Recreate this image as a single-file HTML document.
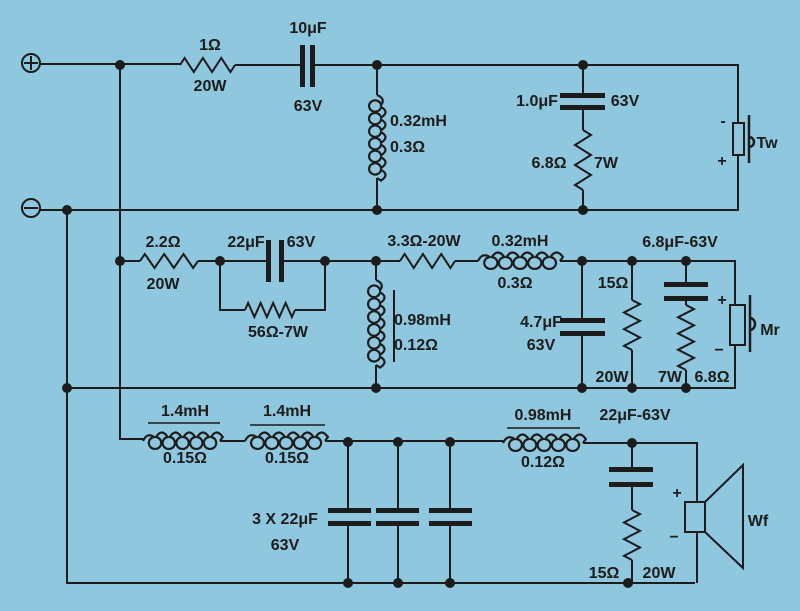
<!DOCTYPE html>
<html><head><meta charset="utf-8"><style>
html,body{margin:0;padding:0;background:#8fc7de}
svg{display:block}
text{font-family:"Liberation Sans Narrow","Liberation Sans",sans-serif;font-weight:bold;font-size:16px;fill:#1c1c1c;text-anchor:middle}
</style></head><body>
<svg id="s" width="800" height="611" viewBox="0 0 800 611" xmlns="http://www.w3.org/2000/svg">
<rect width="800" height="611" fill="#8fc7de"/>
<g id="g" stroke="#1c1c1c" stroke-width="2" fill="none">
<!-- terminals -->
<circle cx="31" cy="63" r="9"/><line x1="31" y1="56" x2="31" y2="70"/><line x1="24" y1="63" x2="38" y2="63"/>
<circle cx="31" cy="208" r="9"/><line x1="24" y1="208" x2="38" y2="208"/>
<!-- top rail -->
<path d="M40 64 H180 M235 65 H302 M312 65 H738 V123 M738 155 V210 H40"/>
<path d="M377 65 V95 M377 178 V210 M583 65 V95 M583 107 V130 M583 190 V210"/>
<!-- verticals -->
<path d="M120 65 V439 H143 M67 210 V583 H695"/>
<!-- mid rail -->
<path d="M120 261 H140 M198 261 H268 M281 261 H400 M455 261 H478 M560 261 H735 V305 M735 345 V388 H67"/>
<path d="M220 261 V310 H245 M295 310 H325 V261"/>
<path d="M376 261 V280 M376 365 V388 M394 290 V362"/>
<path d="M582 261 V320 M582 333 V388 M632 261 V300 M632 350 V388 M686 261 V284 M686 298 V305 M686 370 V388"/>
<!-- bottom -->
<path d="M220 441 H245 M325 441 H503 M583 443 H697 V502 M697 532 V583"/>
<path d="M348 442 V510 M348 523 V583 M398 442 V510 M398 523 V583 M450 442 V510 M450 523 V583"/>
<path d="M632 443 V470 M632 485 V510 M632 560 V583"/>
<path d="M148 423 H220 M250 425 H325 M507 428 H580" stroke-width="1.5"/>
<!-- tweeter -->
<rect x="733" y="123" width="11" height="32"/><path d="M749 115 V163 M749 137 a5 5 0 0 1 0 10" stroke-width="2.5"/>
<!-- mid speaker -->
<rect x="730" y="305" width="15" height="40"/><path d="M750 295 V352 M750 318 a5 6 0 0 1 0 12" stroke-width="2.5"/>
<!-- woofer -->
<rect x="685" y="502" width="20" height="30"/><path d="M705 502 L743 465 V568 L705 532"/>
</g>
<g fill="#1c1c1c">
<!-- cap plates -->
<rect x="300" y="45" width="5" height="42"/><rect x="310" y="45" width="5" height="42"/>
<rect x="560" y="93" width="45" height="5"/><rect x="560" y="105" width="45" height="5"/>
<rect x="266" y="240" width="5" height="42"/><rect x="279" y="240" width="5" height="42"/>
<rect x="560" y="318" width="45" height="5"/><rect x="560" y="331" width="45" height="5"/>
<rect x="664" y="282" width="44" height="5"/><rect x="664" y="296" width="44" height="5"/>
<rect x="328" y="508" width="43" height="5"/><rect x="328" y="521" width="43" height="5"/>
<rect x="376" y="508" width="43" height="5"/><rect x="376" y="521" width="43" height="5"/>
<rect x="429" y="508" width="43" height="5"/><rect x="429" y="521" width="43" height="5"/>
<rect x="609" y="467" width="44" height="5"/><rect x="609" y="482" width="44" height="5"/>
</g>
<g id="dots" fill="#1c1c1c"></g>
<text x="210" y="50">1Ω</text><text x="210" y="91">20W</text>
<text x="308" y="33">10μF</text><text x="308" y="111">63V</text>
<text x="390" y="126" style="text-anchor:start">0.32mH</text><text x="390" y="152" style="text-anchor:start">0.3Ω</text>
<text x="537" y="106">1.0μF</text><text x="625" y="106">63V</text>
<text x="549" y="168">6.8Ω</text><text x="606" y="168">7W</text>
<text x="723" y="126">-</text><text x="722" y="166">+</text><text x="767" y="148">Tw</text>
<text x="163" y="247">2.2Ω</text><text x="163" y="289">20W</text>
<text x="246" y="247">22μF</text><text x="301" y="247">63V</text>
<text x="278" y="337">56Ω-7W</text>
<text x="394" y="325" style="text-anchor:start">0.98mH</text><text x="394" y="350" style="text-anchor:start">0.12Ω</text>
<text x="424" y="246">3.3Ω-20W</text>
<text x="520" y="246">0.32mH</text><text x="515" y="288">0.3Ω</text>
<text x="541" y="327">4.7μF</text><text x="541" y="350">63V</text>
<text x="613" y="288">15Ω</text><text x="612" y="382">20W</text>
<text x="680" y="247">6.8μF-63V</text>
<text x="670" y="382">7W</text><text x="712" y="382">6.8Ω</text>
<text x="722" y="305">+</text><text x="719" y="355">−</text><text x="770" y="335">Mr</text>
<text x="185" y="416">1.4mH</text><text x="185" y="463">0.15Ω</text>
<text x="287" y="416">1.4mH</text><text x="287" y="463">0.15Ω</text>
<text x="285" y="524">3 X 22μF</text><text x="285" y="550">63V</text>
<text x="543" y="420">0.98mH</text><text x="543" y="467">0.12Ω</text>
<text x="635" y="420">22μF-63V</text>
<text x="604" y="578">15Ω</text><text x="659" y="578">20W</text>
<text x="677" y="498">+</text><text x="674" y="542">−</text><text x="758" y="526">Wf</text>
</svg>
<script>
var g=document.getElementById('g'),NS="http://www.w3.org/2000/svg";
function p(d,w){var e=document.createElementNS(NS,'path');e.setAttribute('d',d);if(w)e.setAttribute('stroke-width',w);g.appendChild(e);}
function rh(x1,x2,y,n){var d="M"+x1+" "+y,s=(x2-x1)/(n*2);for(var i=0;i<n*2;i++){d+=" L"+(x1+s*(i+0.5))+" "+(y+(i%2?7:-7));}d+=" L"+x2+" "+y;p(d);}
function rv(x,y1,y2,n){var d="M"+x+" "+y1,s=(y2-y1)/(n*2);for(var i=0;i<n*2;i++){d+=" L"+(x+(i%2?-8:8))+" "+(y1+s*(i+0.5));}d+=" L"+x+" "+y2;p(d);}
function lh(x1,x2,y,n){var s=(x2-x1)/(n+0.6),d="M"+x1+" "+y+" q"+(s*0.3)+" -9 "+(s*0.8)+" -4";var x=x1+s*0.8;for(var i=0;i<n;i++){d+=" a"+(s*0.45)+" 6 0 1 0 "+(s*0.15)+" 0 q"+(s*0.4)+" -9 "+(s*0.85)+" 0";x+=s;}d+=" L"+x2+" "+y;p(d,2.2);}
function lv(x,y1,y2,n){var s=(y2-y1)/(n+0.6),d="M"+x+" "+y1+" q9 "+(s*0.3)+" 4 "+(s*0.8);for(var i=0;i<n;i++){d+=" a6 "+(s*0.45)+" 0 1 0 0 "+(s*0.15)+" q9 "+(s*0.4)+" 0 "+(s*0.85);}d+=" L"+x+" "+y2;p(d,2.2);}
rh(180,235,65,3);rh(140,198,261,3);rh(245,295,310,4);rh(400,455,261,3);
rv(583,130,190,3);rv(632,300,350,3);rv(686,305,370,4);rv(632,510,560,3);
lv(377,95,178,6);lv(376,280,365,6);
lh(478,560,261,5);lh(143,220,441,5);lh(245,325,441,5);lh(503,583,443,5);
var dots=[[120,65],[377,65],[583,65],[67,210],[377,210],[583,210],[120,261],[220,261],[325,261],[376,261],[582,261],[632,261],[686,261],[67,388],[376,388],[582,388],[632,388],[686,388],[348,442],[398,442],[450,442],[632,443],[348,583],[398,583],[450,583],[628,583]];
var D=document.getElementById('dots');dots.forEach(function(c){var e=document.createElementNS(NS,'circle');e.setAttribute('cx',c[0]);e.setAttribute('cy',c[1]);e.setAttribute('r',5);D.appendChild(e);});
</script>
</body></html>
